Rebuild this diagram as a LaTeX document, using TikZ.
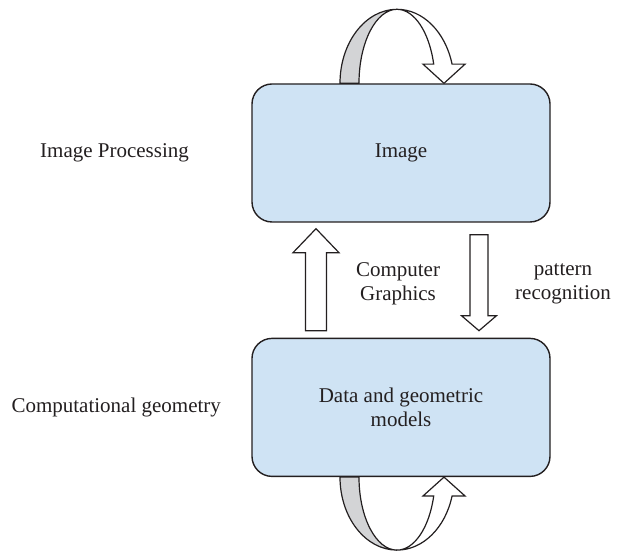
\documentclass[tikz,border=0pt]{standalone}
\usepackage{fontspec}
\setmainfont{Liberation Serif}
\usepackage{xcolor}
\usepackage{tikz}
\usetikzlibrary{calc, positioning}
\definecolor{stagefill}{RGB}{207,227,244}
\definecolor{inkgray}{RGB}{35,31,32}
\definecolor{backgray}{RGB}{211,212,214}
\tikzset{
  stage/.style={rectangle, rounded corners=10pt, draw=inkgray, fill=stagefill, line width=0.7pt,
    minimum width=149pt, minimum height=69pt, align=center, text=inkgray,
    font=\fontsize{10.5}{12}\selectfont},
  field/.style={inner sep=0pt, align=center, text=inkgray, font=\fontsize{10.5}{12}\selectfont},
  flowarrow/.style={draw=inkgray, fill=white, line width=0.6pt},
  loopback/.style={draw=inkgray, fill=backgray, line width=0.6pt},
  loopfront/.style={draw=inkgray, fill=white, line width=0.6pt}
}
% vertical block arrow: tail, tip, half shaft, half head, head length
\newcommand{\blockarrow}[5]{%
  \coordinate (hb) at ($(#2)!#5!(#1)$);
  \draw[flowarrow] ($(#1)+(-#3,0)$) -- ($(hb)+(-#3,0)$) -- ($(hb)+(-#4,0)$) -- (#2)
    -- ($(hb)+(#4,0)$) -- ($(hb)+(#3,0)$) -- ($(#1)+(#3,0)$) -- cycle;
}

\begin{document}
\begin{tikzpicture}[x=0.5pt, y=0.5pt]
  \useasboundingbox (0,0) rectangle (622,552);

  % the two stages
  \node[stage] (img) at (401,399) {Image};
  \node[stage, below=57.5pt of img] (data) {Data and geometric\\models};

  % fields on the left
  \node[field, left=31pt of img] (proc) {Image Processing};
  \node[field, left=15pt of data] (geom) {Computational geometry};

  % transitions between the stages
  \coordinate (cgtail) at ($(data.north)+(-85,7)$);
  \coordinate (cgtip) at ($(img.south)+(-85,-6)$);
  \coordinate (prtail) at ($(img.south)+(78,-12)$);
  \coordinate (prtip) at ($(data.north)+(78,7)$);
  \blockarrow{cgtail}{cgtip}{10.5}{23}{12pt}
  \blockarrow{prtail}{prtip}{9}{17.5}{7.5pt}
  \node[field] (cg) at ($(img.south)+(-3,-61)$) {Computer\\Graphics};
  \node[field] (pr) at ($(img.south)+(162,-61)$) {pattern\\recognition};

  % loop over the image
  \coordinate (imgloop) at ($(img.north)+(-4,0)$);
  \draw[loopback] ($(imgloop)+(-57,0)$) arc[start angle=180, end angle=90, x radius=57, y radius=74]
    arc[start angle=90, end angle=180, x radius=38, y radius=74] -- cycle;
  \draw[loopfront] ($(imgloop)+(0,74)$) arc[start angle=90, end angle=15, x radius=57, y radius=74]
    -- ++(13,0) -- ($(imgloop)+(47,0)$) -- ($(imgloop)+(26,19.15)$) -- ($(imgloop)+(36.7,19.15)$)
    arc[start angle=15, end angle=90, x radius=38, y radius=74] -- cycle;

  % loop under the data
  \coordinate (dataloop) at ($(data.south)+(-4,0)$);
  \draw[loopback] ($(dataloop)+(-57,0)$) arc[start angle=180, end angle=270, x radius=57, y radius=73]
    arc[start angle=270, end angle=180, x radius=38, y radius=73] -- cycle;
  \draw[loopfront] ($(dataloop)+(0,-73)$) arc[start angle=270, end angle=345, x radius=57, y radius=73]
    -- ++(13,0) -- ($(dataloop)+(47,0)$) -- ($(dataloop)+(26,-18.9)$) -- ($(dataloop)+(36.7,-18.9)$)
    arc[start angle=345, end angle=270, x radius=38, y radius=73] -- cycle;
\end{tikzpicture}
\end{document}
